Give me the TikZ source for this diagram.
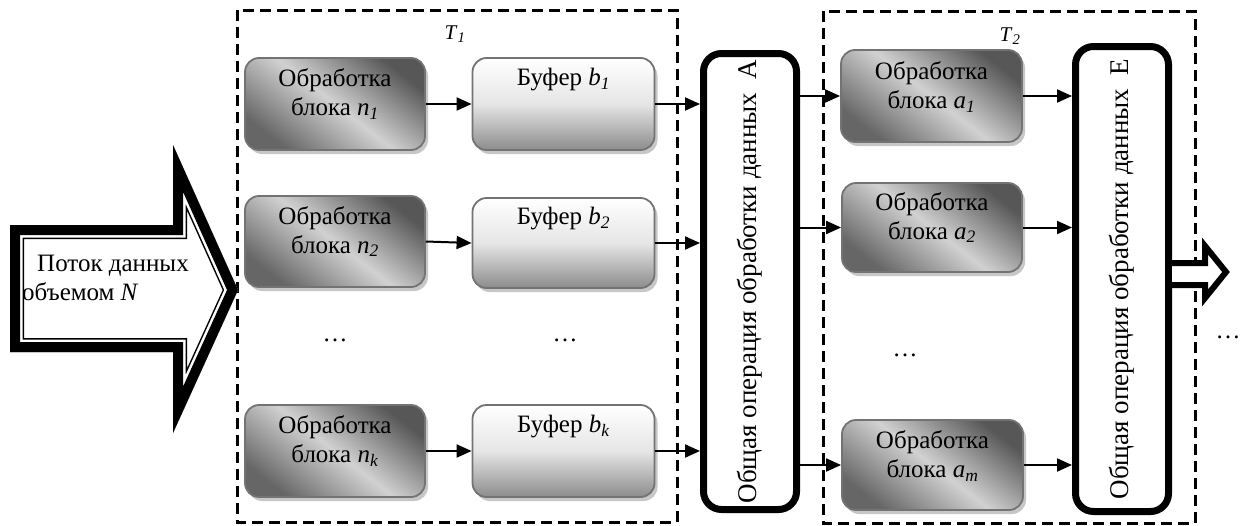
\documentclass[tikz,border=0pt]{standalone}
\usepackage{fontspec}
\setmainfont{Liberation Serif}
\newfontfamily\tnr{Liberation Serif}
\usetikzlibrary{arrows.meta,shadows}
\newcommand{\myidx}[2]{\textit{#1}\textsubscript{\textit{#2}}}
\begin{document}
\begin{tikzpicture}[x=1pt,y=-1pt,
  every node/.style={font=\tnr\fontsize{25}{29}\selectfont},
  procbox/.style={draw=black!55, line width=1.8pt, rounded corners=14pt, inner sep=0pt,
    shading=axis, top color=black!66, bottom color=black!60, middle color=black!18, shading angle=-38,
    drop shadow={shadow xshift=3pt, shadow yshift=-4pt, fill=black!22, opacity=1}},
  bufbox/.style={draw=black!55, line width=1.8pt, rounded corners=14pt, inner sep=0pt,
    shading=axis, top color=white, bottom color=black!45, middle color=black!10,
    drop shadow={shadow xshift=3pt, shadow yshift=-4pt, fill=black!22, opacity=1}},
  opbox/.style={draw, line width=7pt, rounded corners=18pt, fill=white, inner sep=0pt},
  optext/.style={rotate=90, inner sep=0pt, font=\tnr\fontsize{27}{30}\selectfont},
  arr/.style={-{Triangle[length=15pt,width=13pt]}, line width=2pt},
  dashbox/.style={line width=3pt, dash pattern=on 11pt off 6pt},
  txt/.style={align=center, inner sep=0pt},
  tlab/.style={font=\tnr\fontsize{21}{24}\selectfont}
]
\useasboundingbox (0,0) rectangle (1241,525);
\fill[white] (0,0) rectangle (1241,525);

% dashed groups
\draw[dashbox] (237,10) rectangle (677,522);
\draw[dashbox] (823,11) rectangle (1195,523);
\node[tlab] (t1) at (455,34) {\myidx{T}{1}};
\node[tlab] (t2) at (1010,36) {\myidx{T}{2}};

% big input arrow
\begin{scope}
  \clip (10,225) -- (173,225) -- (173,145) -- (238,290) -- (173,433) -- (173,352) -- (10,352) -- cycle;
  \draw[line width=28pt, line join=miter] (10,225) -- (173,225) -- (173,145) -- (238,290) -- (173,433) -- (173,352) -- (10,352) -- cycle;
  \draw[white, line width=25pt, line join=miter] (10,225) -- (173,225) -- (173,145) -- (238,290) -- (173,433) -- (173,352) -- (10,352) -- cycle;
  \draw[line width=20pt, line join=miter] (10,225) -- (173,225) -- (173,145) -- (238,290) -- (173,433) -- (173,352) -- (10,352) -- cycle;
\end{scope}
\node[anchor=west, inner sep=0pt] (in1) at (37,266) {Поток данных};
\node[anchor=west, inner sep=0pt] (in2) at (22,292) {объемом \textit{N}};

% processing blocks n
\node[procbox, minimum width=180pt, minimum height=92pt,
  label={[txt, yshift=10pt]center:Обработка\\блока \myidx{n}{1}}] (n1) at (335,104) {};
\node[procbox, minimum width=180pt, minimum height=91pt,
  label={[txt, yshift=10pt]center:Обработка\\блока \myidx{n}{2}}] (n2) at (335,241.5) {};
\node[procbox, minimum width=180pt, minimum height=92pt,
  label={[txt, yshift=10pt]center:Обработка\\блока \myidx{n}{k}}] (nk) at (335,451) {};

% buffers
\node[bufbox, minimum width=182pt, minimum height=92pt,
  label={[txt, yshift=24pt]center:Буфер \myidx{b}{1}}] (b1) at (563.5,104) {};
\node[bufbox, minimum width=182pt, minimum height=90pt,
  label={[txt, yshift=24pt]center:Буфер \myidx{b}{2}}] (b2) at (563.5,243) {};
\node[bufbox, minimum width=182pt, minimum height=92pt,
  label={[txt, yshift=24pt]center:Буфер \myidx{b}{k}}] (bk) at (563.5,451) {};

\node (d1) at (335,340) {\dots};
\node (d2) at (565,340) {\dots};

% operation A
\node[opbox, minimum width=93pt, minimum height=456pt] (A) at (750,281.5) {};
\node[optext] (At) at (A.center) {Общая операция обработки данных\ \ А};

% processing blocks a
\node[procbox, minimum width=181pt, minimum height=92pt,
  label={[txt, yshift=9pt]center:Обработка\\блока \myidx{a}{1}}] (a1) at (931.5,96) {};
\node[procbox, minimum width=180pt, minimum height=89pt,
  label={[txt, yshift=10pt]center:Обработка\\блока \myidx{a}{2}}] (a2) at (932,227.5) {};
\node[procbox, minimum width=181pt, minimum height=90pt,
  label={[txt, yshift=9pt]center:Обработка\\блока \myidx{a}{m}}] (am) at (932.5,465) {};
\node (d3) at (905,355) {\dots};

% operation E
\node[opbox, minimum width=93pt, minimum height=465pt] (E) at (1122,279) {};
\node[optext] (Et) at (E.center) {Общая операция обработки данных\ \ Е};

% output arrow
\coordinate (o0) at (E.east |- 0,263);
\coordinate (o1) at (E.east |- 0,285);
\filldraw[fill=white, line width=6pt, line join=miter] (o0) -- (1205,263) -- (1205,246) -- (1226,272) -- (1205,298) -- (1205,285) -- (o1);
\node (d4) at (1228,337) {\dots};

% connectors
\draw[arr] (n1.east) -- (b1.west);
\draw[arr] (n2.east) -- (b2.west);
\draw[arr] (nk.east) -- (bk.west);
\draw[arr] (b1.east) -- (b1.east -| A.west);
\draw[arr] (b2.east) -- (b2.east -| A.west);
\draw[arr] (bk.east) -- (bk.east -| A.west);
\draw[arr] (a1.west -| A.east) -- (a1.west);
\draw[arr] (a2.west -| A.east) -- (a2.west);
\draw[arr] (am.west -| A.east) -- (am.west);
\draw[arr] (a1.east) -- (a1.east -| E.west);
\draw[arr] (a2.east) -- (a2.east -| E.west);
\draw[arr] (am.east) -- (am.east -| E.west);
\end{tikzpicture}
\end{document}
